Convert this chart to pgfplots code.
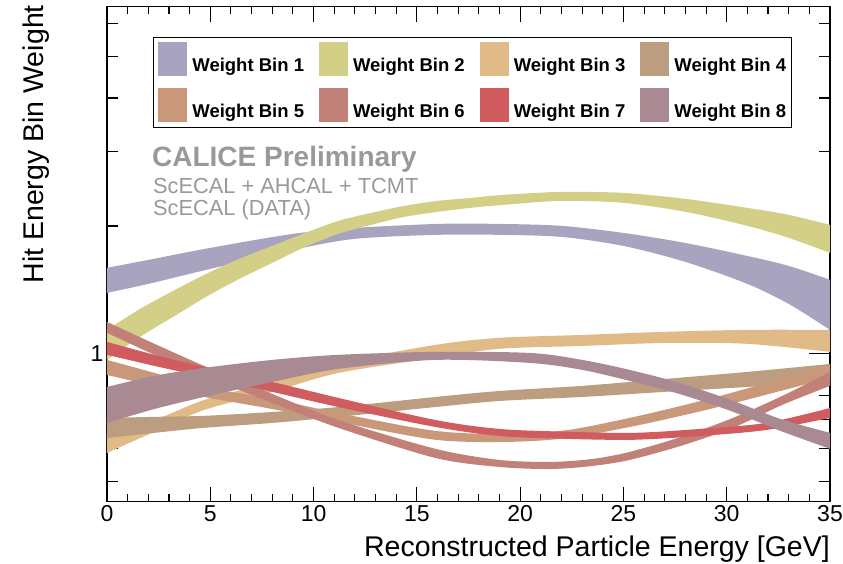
\documentclass[border=0pt]{standalone}
\usepackage{fontspec}
\setmainfont{Liberation Sans}
\usepackage{pgfplots}
\pgfplotsset{compat=1.18}
\usepgfplotslibrary{fillbetween}

\definecolor{binA}{RGB}{168,164,191}
\definecolor{binB}{RGB}{212,207,135}
\definecolor{binC}{RGB}{224,186,135}
\definecolor{binD}{RGB}{188,157,128}
\definecolor{binE}{RGB}{201,151,122}
\definecolor{binF}{RGB}{193,128,120}
\definecolor{binG}{RGB}{209,92,96}
\definecolor{binH}{RGB}{170,138,146}
\definecolor{labelgray}{RGB}{153,153,153}

\begin{document}
\begin{tikzpicture}
\begin{axis}[
  scale only axis, width=723pt, height=495pt,
  xmin=0, xmax=35,
  ymode=log, ymin=0.449, ymax=6.56,
  xtick={0,5,...,35}, minor x tick num=4,
  ytick={1}, yticklabels={1},
  minor ytick={0.5,0.6,0.7,0.8,0.9,2,3,4,5,6},
  tick align=inside,
  axis line style={line width=1.1pt},
  every tick/.style={black, line width=1.1pt},
  xtick style={/pgfplots/major tick length=15pt,/pgfplots/minor tick length=7.5pt},
  ytick style={/pgfplots/major tick length=21pt,/pgfplots/minor tick length=11pt},
  /pgf/number format/assume math mode=true,
  tick label style={font=\fontsize{23}{23}\selectfont},
  xlabel={Reconstructed Particle Energy [GeV]},
  ylabel={Hit Energy Bin Weight},
  label style={font=\fontsize{28.5}{28.5}\selectfont, inner sep=0pt},
  xlabel style={at={(axis description cs:1,-0.1100)}, anchor=base east},
  ylabel style={at={(axis description cs:-0.0885,1.0034)}, anchor=base east},
  legend image code/.code={\path[#1] (0pt,-10.5pt) rectangle (29pt,23.5pt);},
  legend columns=4,
  legend cell align=left,
  legend style={
    at={(0.0636,0.9388)}, anchor=north west,
    draw=black, line width=0.8pt,
    font=\bfseries\fontsize{18.5}{18.5}\selectfont,
    inner xsep=5pt, inner ysep=5pt, row sep=12pt,
    nodes={inner sep=0pt},
    /tikz/every odd column/.append style={column sep=5pt},
    /tikz/every even column/.append style={column sep=15pt},
  },
]

% legend swatches
\addlegendimage{fill=binA, draw=none}\addlegendentry{Weight Bin 1}
\addlegendimage{fill=binB, draw=none}\addlegendentry{Weight Bin 2}
\addlegendimage{fill=binC, draw=none}\addlegendentry{Weight Bin 3}
\addlegendimage{fill=binD, draw=none}\addlegendentry{Weight Bin 4}
\addlegendimage{fill=binE, draw=none}\addlegendentry{Weight Bin 5}
\addlegendimage{fill=binF, draw=none}\addlegendentry{Weight Bin 6}
\addlegendimage{fill=binG, draw=none}\addlegendentry{Weight Bin 7}
\addlegendimage{fill=binH, draw=none}\addlegendentry{Weight Bin 8}

% Weight bin 1 (upper / lower edge of the band)
\addplot[draw=none, smooth, name path=a1, forget plot] coordinates {
 (0,1.594) (2,1.664) (5,1.776) (9,1.916) (12,1.979) (16,2.022) (19,2.022)
 (22,2.001) (25,1.926) (28,1.824) (31,1.700) (33,1.611) (35,1.494)};
\addplot[draw=none, smooth, name path=b1, forget plot] coordinates {
 (0,1.392) (2,1.461) (5,1.585) (9,1.757) (12,1.865) (16,1.906) (19,1.906)
 (22,1.885) (25,1.795) (28,1.646) (31,1.461) (33,1.311) (35,1.139)};
\addplot[fill=binA, draw=none, forget plot] fill between[of=a1 and b1];

% Weight bin 2
\addplot[draw=none, smooth, name path=a2, forget plot] coordinates {
 (0,1.139) (1.6,1.276) (3.2,1.407) (4.8,1.543) (6.4,1.673) (8,1.795)
 (9.6,1.926) (11.2,2.056) (12.8,2.147) (14.4,2.230) (16,2.291) (17.6,2.328)
 (19.2,2.367) (22,2.405) (25,2.392) (28,2.316) (31,2.206) (33,2.124) (35,2.012)};
\addplot[draw=none, smooth, name path=b2, forget plot] coordinates {
 (0,0.968) (1.6,1.097) (3.2,1.222) (4.8,1.362) (6.4,1.501) (8,1.637)
 (9.6,1.786) (11.2,1.916) (12.8,2.012) (14.4,2.101) (16,2.158) (17.6,2.206)
 (19.2,2.242) (22,2.291) (25,2.266) (28,2.159) (31,2.001) (33,1.875) (35,1.729)};
\addplot[fill=binB, draw=none, forget plot] fill between[of=a2 and b2];

% Weight bin 3
\addplot[draw=none, smooth, name path=a3, forget plot] coordinates {
 (0,0.652) (2.3,0.699) (4.7,0.779) (8,0.859) (11.2,0.952) (15.9,1.050)
 (19,1.091) (23,1.108) (27,1.127) (31,1.139) (35,1.139)};
\addplot[draw=none, smooth, name path=b3, forget plot] coordinates {
 (0,0.585) (2.3,0.656) (4.7,0.738) (8,0.814) (11.2,0.902) (15.9,0.979)
 (19,1.028) (23,1.044) (27,1.061) (31,1.056) (35,1.011)};
\addplot[fill=binC, draw=none, forget plot] fill between[of=a3 and b3];

% Weight bin 4
\addplot[draw=none, smooth, name path=a4, forget plot] coordinates {
 (0,0.707) (2.3,0.711) (4.7,0.715) (8,0.730) (11.2,0.750) (15.9,0.792)
 (19,0.818) (23,0.841) (27,0.873) (31,0.907) (35,0.947)};
\addplot[draw=none, smooth, name path=b4, forget plot] coordinates {
 (0,0.634) (2.3,0.652) (4.7,0.670) (8,0.688) (11.2,0.711) (15.9,0.750)
 (19,0.775) (23,0.792) (27,0.814) (31,0.836) (35,0.859)};
\addplot[fill=binD, draw=none, forget plot] fill between[of=a4 and b4];

% Weight bin 5
\addplot[draw=none, smooth, name path=a5, forget plot] coordinates {
 (0,0.968) (2.3,0.902) (4.7,0.836) (8,0.784) (11.2,0.726) (15.9,0.659)
 (19.5,0.648) (22.3,0.662) (25.3,0.707) (28,0.759) (30.2,0.809) (32.6,0.873) (35,0.947)};
\addplot[draw=none, smooth, name path=b5, forget plot] coordinates {
 (0,0.892) (2.3,0.841) (4.7,0.792) (8,0.742) (11.2,0.692) (15.9,0.628)
 (19.5,0.621) (22.3,0.634) (25.3,0.673) (28,0.719) (30.2,0.763) (32.6,0.818) (35,0.878)};
\addplot[fill=binE, draw=none, forget plot] fill between[of=a5 and b5];

% Weight bin 6
\addplot[draw=none, smooth, name path=a6, forget plot] coordinates {
 (0,1.189) (2.3,1.056) (4.7,0.937) (8,0.805) (11.2,0.699) (15.9,0.598)
 (19,0.563) (21.5,0.557) (23.5,0.566) (25.3,0.588) (27.8,0.638) (30.3,0.707)
 (32.7,0.797) (35,0.907)};
\addplot[draw=none, smooth, name path=b6, forget plot] coordinates {
 (0,1.121) (2.3,0.995) (4.7,0.888) (8,0.767) (11.2,0.670) (15.9,0.569)
 (19,0.542) (21.5,0.536) (23.5,0.545) (25.3,0.563) (27.8,0.608) (30.3,0.670)
 (32.7,0.759) (35,0.841)};
\addplot[fill=binF, draw=none, forget plot] fill between[of=a6 and b6];

% Weight bin 7
\addplot[draw=none, smooth, name path=a7, forget plot] coordinates {
 (0,1.067) (2.3,0.995) (4.7,0.932) (8,0.859) (11.2,0.788) (15.9,0.699)
 (19,0.666) (22.3,0.656) (25.5,0.652) (28.7,0.666) (31.9,0.688) (35,0.746)};
\addplot[draw=none, smooth, name path=b7, forget plot] coordinates {
 (0,0.995) (2.3,0.937) (4.7,0.883) (8,0.814) (11.2,0.750) (15.9,0.673)
 (19,0.641) (22.3,0.631) (25.5,0.628) (28.7,0.641) (31.9,0.662) (35,0.707)};
\addplot[fill=binG, draw=none, forget plot] fill between[of=a7 and b7];

% Weight bin 8
\addplot[draw=none, smooth, name path=a8, forget plot] coordinates {
 (0,0.836) (2.3,0.888) (4.7,0.927) (8,0.968) (11.2,0.995) (15.9,1.011)
 (20.5,1.005) (23,0.968) (25.3,0.917) (27.7,0.855) (30.2,0.779)
 (32.6,0.703) (35,0.652)};
\addplot[draw=none, smooth, name path=b8, forget plot] coordinates {
 (0,0.688) (2.3,0.742) (4.7,0.792) (8,0.859) (11.2,0.922) (15.9,0.968)
 (20.5,0.952) (23,0.917) (25.3,0.864) (27.7,0.805) (30.2,0.734)
 (32.6,0.659) (35,0.598)};
\addplot[fill=binH, draw=none, forget plot] fill between[of=a8 and b8];

% experiment tag
\node[anchor=base west, inner sep=0pt, text=labelgray,
      font=\bfseries\fontsize{28}{28}\selectfont]
  at (axis description cs:0.0622,0.6762) {CALICE Preliminary};
\node[anchor=base west, inner sep=0pt, text=labelgray,
      font=\fontsize{21.8}{21.8}\selectfont]
  at (axis description cs:0.0636,0.6236) {ScECAL + AHCAL + TCMT};
\node[anchor=base west, inner sep=0pt, text=labelgray,
      font=\fontsize{21.8}{21.8}\selectfont]
  at (axis description cs:0.0636,0.5772) {ScECAL (DATA)};
\end{axis}
% page frame: 843 x 564 around the axis box
\pgfresetboundingbox
\useasboundingbox (-107pt,-62.3pt) rectangle (736pt,501.7pt);
\end{tikzpicture}
\end{document}
